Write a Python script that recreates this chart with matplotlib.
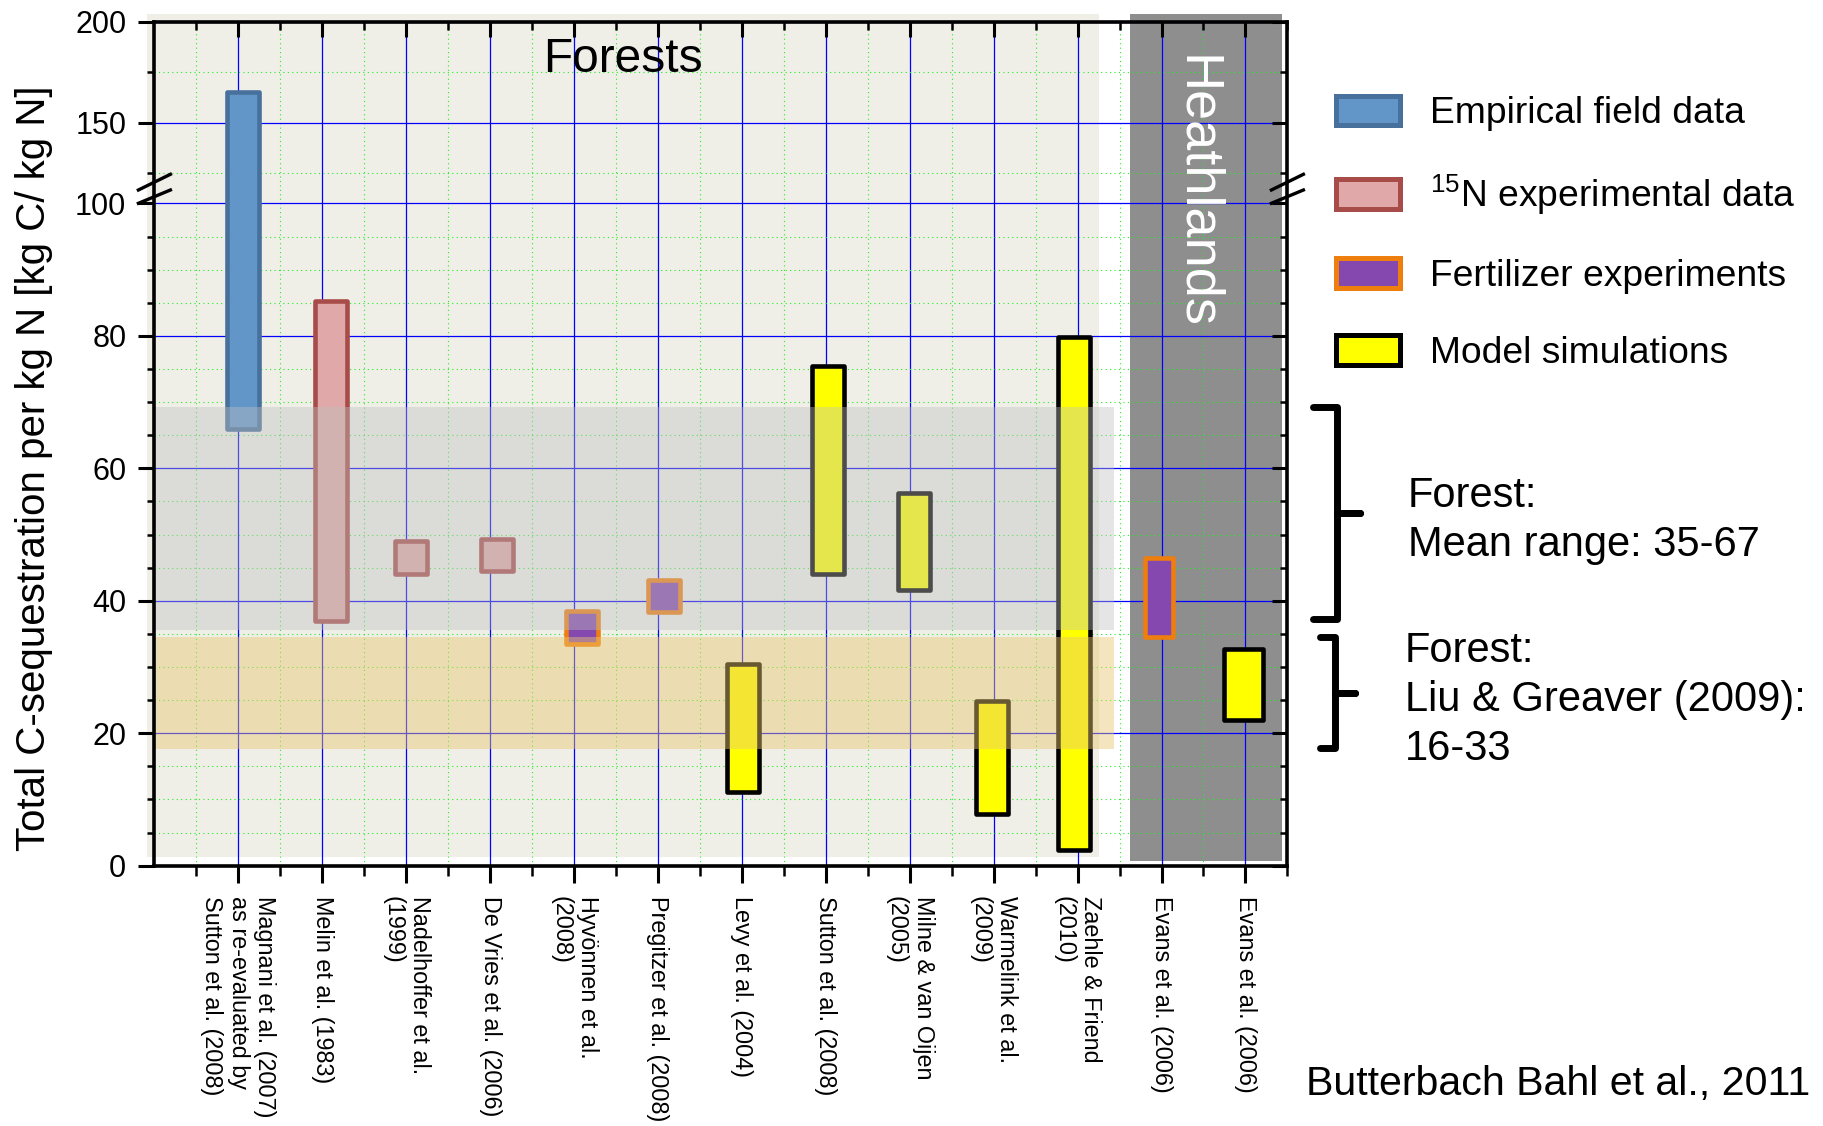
import numpy as np
import matplotlib
matplotlib.use("Agg")
import matplotlib.pyplot as plt
from matplotlib.patches import Rectangle, Patch
from matplotlib.lines import Line2D
import matplotlib.transforms as mtransforms

plt.rcParams['font.family'] = ['Liberation Sans', 'DejaVu Sans']
plt.rcParams['mathtext.fontset'] = 'custom'
plt.rcParams['mathtext.rm'] = 'Liberation Sans'
plt.rcParams['mathtext.it'] = 'Liberation Sans:italic'
plt.rcParams['mathtext.bf'] = 'Liberation Sans:bold'

# ---------------- data ----------------
studies = [
    "Magnani et al. (2007)\nas re-evaluated by\nSutton et al. (2008)",
    "Melin et al. (1983)",
    "Nadelhoffer et al.\n(1999)",
    "De Vries et al. (2006)",
    "Hyvönnen et al.\n(2008)",
    "Pregitzer et al. (2008)",
    "Levy et al. (2004)",
    "Sutton et al. (2008)",
    "Milne & van Oijen\n(2005)",
    "Warmelink et al.\n(2009)",
    "Zaehle & Friend\n(2010)",
    "Evans et al. (2006)",
    "Evans et al. (2006)",
]
range_low = [66, 37, 44, 44.5, 33.5, 38.3, 11.2, 44, 41.7, 7.8, 2.4, 34.6, 22]
range_high = [165, 85.2, 49, 49.3, 38.4, 43.2, 30.5, 75.5, 56.3, 24.8, 79.8, 46.5, 32.7]
data_type = ["empirical", "15N", "15N", "15N", "fertilizer", "fertilizer",
             "model", "model", "model", "model", "model", "fertilizer", "model"]

legend_labels = ["Empirical field data", r"$^{15}$N experimental data",
                 "Fertilizer experiments", "Model simulations"]
legend_types = ["empirical", "15N", "fertilizer", "model"]

mean_range_band = [35.6, 69.3]      # Forest: mean range 35-67
liu_band = [17.6, 34.6]             # Forest: Liu & Greaver (2009) 16-33
forest_span = [-0.09, 11.25]        # category extent of forest panel
heath_span = [11.63, 13.44]         # category extent of heathland panel
band_span = [0, 11.43]

yticks_major = [0, 20, 40, 60, 80, 100, 150, 200]
yticks_minor = [5, 10, 15, 25, 30, 35, 45, 50, 55, 65, 70, 75, 85, 90, 95, 125, 175]

# ---------------- styles ----------------
styles = {
    "empirical": dict(facecolor="#6295C8", edgecolor="#48709C"),
    "15N": dict(facecolor="#E0A8A8", edgecolor="#A84C4A"),
    "fertilizer": dict(facecolor="#8448AE", edgecolor="#EE7E0E"),
    "model": dict(facecolor="#FFFF00", edgecolor="#000000"),
}
bar_widths = [0.38, 0.38, 0.38, 0.38, 0.38, 0.38, 0.38, 0.38, 0.38, 0.38, 0.38, 0.34, 0.47]
bar_offsets = [0.06, 0.1, 0.06, 0.08, 0.1, 0.07, 0.01, 0.03, 0.05, -0.02, -0.04, -0.03, -0.02]

# broken y axis: 0-100 linear, then 110-200 compressed
BLO, BHI, K = 100.0, 110.0, 0.305


def fwd(y):
    y = np.asarray(y, dtype=float)
    return np.where(y <= BLO, y, np.where(y >= BHI, BLO + (y - BHI) * K, BLO))


def inv(v):
    v = np.asarray(v, dtype=float)
    return np.where(v <= BLO, v, BHI + (v - BLO) / K)


W, H = 1823, 1126
fig = plt.figure(figsize=(W / 100, H / 100), dpi=100)
ax_l, ax_r, ax_t, ax_b = 154.4, 1287.4, 21.7, 865.7
ax = fig.add_axes([ax_l / W, 1 - ax_b / H, (ax_r - ax_l) / W, (ax_b - ax_t) / H])
ax.set_yscale("function", functions=(fwd, inv))
ax.set_xlim(0, 13.5)
ax.set_ylim(0, 200)

x = np.arange(1, len(studies) + 1)

# backgrounds
ax.add_patch(Rectangle((forest_span[0], 1.3), forest_span[1] - forest_span[0], 204 - 1.3,
                       facecolor="#EFEFE8", edgecolor="none", zorder=0.1, clip_on=False))
ax.add_patch(Rectangle((heath_span[0], 0.7), heath_span[1] - heath_span[0], 204 - 0.7,
                       facecolor="#8E8E8E", edgecolor="none", zorder=0.2, clip_on=False))

# bars
for i in range(len(studies)):
    st = styles[data_type[i]]
    ax.bar(x[i] + bar_offsets[i], range_high[i] - range_low[i], bottom=range_low[i],
           width=bar_widths[i], facecolor=st["facecolor"], edgecolor=st["edgecolor"],
           linewidth=3.3, joinstyle="round", zorder=2)

# semi-transparent bands on top
ax.add_patch(Rectangle((band_span[0], mean_range_band[0]), band_span[1] - band_span[0],
                       mean_range_band[1] - mean_range_band[0],
                       facecolor="#BFBFBF", alpha=0.4, edgecolor="none", zorder=2.5))
ax.add_patch(Rectangle((band_span[0], liu_band[0]), band_span[1] - band_span[0],
                       liu_band[1] - liu_band[0],
                       facecolor="#E8C770", alpha=0.45, edgecolor="none", zorder=2.5))

# ticks & grid
ax.set_axisbelow(True)
ax.set_xticks(x)
ax.set_xticks(np.arange(0.5, 13.6, 1.0), minor=True)
ax.set_yticks(yticks_major)
ax.set_yticks(yticks_minor, minor=True)
ax.set_yticklabels([str(v) for v in yticks_major], fontsize=22)
ax.set_xticklabels(studies, rotation=-90, va="top", ha="center", ma="left", fontsize=16.8)
ax.grid(which="major", color="#0000FF", linewidth=0.9)
ax.grid(which="minor", color="#22EE22", linewidth=0.8, linestyle=(0, (1, 3)))
ax.tick_params(axis="y", which="major", direction="out", length=11.2, width=2.2, pad=9, right=False)
ax.tick_params(axis="y", which="minor", direction="out", length=4.8, width=1.8, right=False)
ax.tick_params(axis="x", which="major", direction="out", length=12, width=2.2, pad=10, top=False)
ax.tick_params(axis="x", which="minor", direction="out", length=7.2, width=1.8, top=False)
for s in ax.spines.values():
    s.set_linewidth(2.6)
    s.set_zorder(3)

# inward ticks on top and right via twins
axr = ax.twinx()
axr.set_yscale("function", functions=(fwd, inv))
axr.set_ylim(0, 200)
axr.set_yticks(yticks_major)
axr.set_yticks(yticks_minor, minor=True)
axr.set_yticklabels([])
axr.tick_params(axis="y", which="major", direction="in", length=10.5, width=2.2)
axr.tick_params(axis="y", which="minor", direction="in", length=4.8, width=1.8)
axt = ax.twiny()
axt.set_xlim(0, 13.5)
axt.set_xticks(x)
axt.set_xticks(np.arange(0.5, 13.6, 1.0), minor=True)
axt.set_xticklabels([])
axt.tick_params(axis="x", which="major", direction="in", length=10.8, width=2.2)
axt.tick_params(axis="x", which="minor", direction="in", length=5.5, width=1.8)
for a in (axr, axt):
    for s in a.spines.values():
        s.set_visible(False)

# axis break marks
axw = ax_r - ax_l
axh = ax_b - ax_t
def px2ax(px, py):
    return (px - ax_l) / axw, (ax_b - py) / axh
for xs in (ax_l, ax_r):
    for (y0, y1) in ((203.3, 190.0), (190.0, 174.3)):
        p0 = px2ax(xs - 16, y0)
        p1 = px2ax(xs + 16, y1)
        ax.add_line(Line2D([p0[0], p1[0]], [p0[1], p1[1]], transform=ax.transAxes,
                           color="black", linewidth=2.4, clip_on=False, zorder=5))

# y label
ax.set_ylabel("Total C-sequestration per kg N [kg C/ kg N]", fontsize=29)
ax.yaxis.set_label_coords(-0.0895, 0.471)

# panel labels
ax.text(5.58, px2ax(0, 71.7)[1], "Forests", fontsize=34.5, ha="center", va="baseline",
        transform=mtransforms.blended_transform_factory(ax.transData, ax.transAxes), zorder=4)
ax.text(12.25, px2ax(0, 55)[1], "Heathlands", fontsize=39, color="white", rotation=-90,
        rotation_mode="anchor", ha="left", va="baseline",
        transform=mtransforms.blended_transform_factory(ax.transData, ax.transAxes), zorder=4)

# legend
handles = [Patch(facecolor=styles[t]["facecolor"], edgecolor=styles[t]["edgecolor"],
                 linewidth=3.6, joinstyle="round") for t in legend_types]
fig.legend(handles, legend_labels, loc="upper left", bbox_to_anchor=(1335.5 / W, 1 - 95.5 / H),
           bbox_transform=fig.transFigure, frameon=False, fontsize=26.8, handlelength=1.72,
           handleheight=0.86, labelspacing=1.11, handletextpad=0.82, borderpad=0,
           borderaxespad=0)

# brackets
def bracket(xv, xhook, xtip, ytop, ymid, ybot):
    pts = [(xhook, ytop), (xv, ytop), (xv, ymid), (xtip, ymid), (xv, ymid), (xv, ybot), (xhook, ybot)]
    fig.add_artist(Line2D([p[0] / W for p in pts], [1 - p[1] / H for p in pts],
                          transform=fig.transFigure, color="black", linewidth=5,
                          solid_joinstyle="round", solid_capstyle="round"))
bracket(1337, 1313, 1360, 407, 513, 619)
bracket(1335, 1320, 1355, 637, 693, 748)

fig.text(1408 / W, 1 - 556 / H, "Forest:\nMean range: 35-67", fontsize=30, ha="left",
         va="baseline", linespacing=1.29)
fig.text(1405 / W, 1 - 760 / H, "Forest:\nLiu & Greaver (2009):\n16-33", fontsize=30, ha="left",
         va="baseline", linespacing=1.29)
fig.text(1306 / W, 1 - 1095 / H, "Butterbach Bahl et al., 2011", fontsize=29.6, ha="left",
         va="baseline")

fig.savefig("out.png", dpi=100)
